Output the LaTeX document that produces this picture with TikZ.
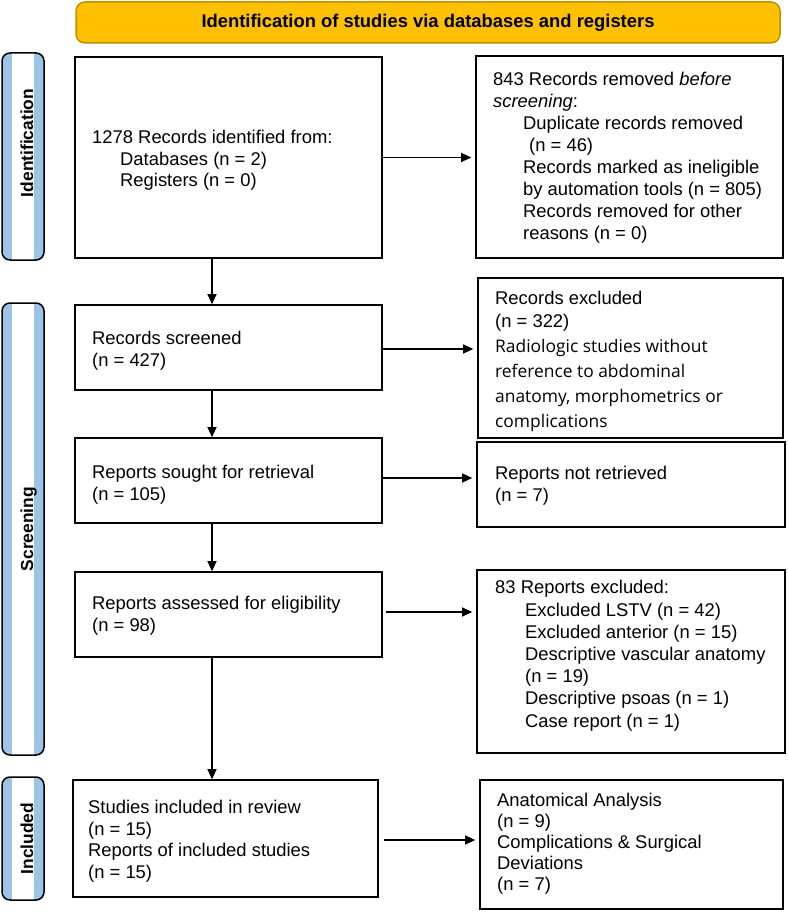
\documentclass[tikz,border=0pt]{standalone}
\usepackage{fontspec}
\setmainfont{Liberation Sans}
\newfontfamily\osans{Open Sans}
\usetikzlibrary{arrows.meta}
\definecolor{hdrfill}{HTML}{FFC000}
\definecolor{hdrline}{HTML}{BF9000}
\definecolor{barblue}{HTML}{9DC3E6}
\tikzset{
  box/.style={draw=black, line width=1.6pt, inner sep=0pt, rectangle},
  txt/.style={anchor=north west, inner sep=0pt, align=left, font=\fontsize{18.4}{21.4}\selectfont},
  arr/.style={-{Triangle[length=10pt,width=9pt]}, line width=1.1pt, shorten >=4pt},
  sidelbl/.style={rotate=90, anchor=base, inner sep=0pt, font=\fontsize{17.4}{20}\selectfont\bfseries},
}
\newcommand{\strt}{\rule{0pt}{14pt}}
\newcommand{\ind}{\hspace*{30pt}}
\begin{document}
\begin{tikzpicture}[x=1pt,y=-1pt]
\useasboundingbox (0,0) rectangle (787,912);
% header
\node[draw=hdrline, fill=hdrfill, line width=1.5pt, rounded corners=9pt, minimum width=704pt, minimum height=41pt, inner sep=0pt,
      font=\fontsize{18.4}{20}\selectfont\bfseries] (hdr) at (428,22.5) {Identification of studies via databases and registers};
% side bars
\foreach \nm/\ya/\yb in {ident/53/260, screen/303/755, incl/777/900}{
  \begin{scope}
    \clip[rounded corners=8pt] (2,\ya) rectangle (44,\yb);
    \fill[barblue] (2,\ya) rectangle (44,\yb);
    \fill[white] (12,\ya) rectangle (34,\yb);
  \end{scope}
  \draw[line width=1.5pt, rounded corners=8pt] (2,\ya) rectangle (44,\yb);
}
\node[sidelbl] (lident) at (33,143) {Identification};
\node[sidelbl] (lscreen) at (33,529) {Screening};
\node[sidelbl] (lincl) at (33,838.5) {Included};
% left boxes
\node[box, minimum width=307pt, minimum height=201pt] (b1) at (228.5,157.5) {};
\node[box, minimum width=307pt, minimum height=85pt] (b2) at (228.5,347.5) {};
\node[box, minimum width=307pt, minimum height=85pt] (b3) at (228.5,480.5) {};
\node[box, minimum width=307pt, minimum height=85pt] (b4) at (228.5,614.5) {};
\node[box, minimum width=305pt, minimum height=117pt] (b5) at (225.5,838.5) {};
% right boxes
\node[box, minimum width=307pt, minimum height=202pt] (r1) at (629.5,157) {};
\node[box, minimum width=305pt, minimum height=160pt] (r2) at (630.5,358) {};
\node[box, minimum width=308pt, minimum height=85pt] (r3) at (631,484.5) {};
\node[box, minimum width=308pt, minimum height=183pt] (r4) at (631,661.5) {};
\node[box, minimum width=303pt, minimum height=129pt] (r5) at (631.5,844.5) {};
% texts
\node[txt] (t1) at (92,129.6) {\strt 1278 Records identified from:\\ \hspace*{28pt}Databases (n = 2)\\ \hspace*{28pt}Registers (n = 0)};
\node[txt] (t2) at (92,330.6) {\strt Records screened\\(n = 427)};
\node[txt] (t3) at (92,464.6) {\strt Reports sought for retrieval\\(n = 105)};
\node[txt] (t4) at (92,595.6) {\strt Reports assessed for eligibility\\(n = 98)};
\node[txt] (t5) at (88,799.6) {\strt Studies included in review\\(n = 15)\\Reports of included studies\\(n = 15)};
\node[txt, font=\fontsize{18.4}{22}\selectfont] (tr1) at (493,71.6) {\strt 843 Records removed \textit{before}\\\textit{screening}:\\\ind Duplicate records removed\\\ind\hspace*{6pt}(n = 46)\\\ind Records marked as ineligible\\\ind by automation tools (n = 805)\\\ind Records removed for other\\\ind reasons (n = 0)};
\node[txt, font=\fontsize{18.4}{23}\selectfont] (tr2a) at (495,290.6) {\strt Records excluded\\(n = 322)};
\node[txt, font=\osans\fontsize{17.4}{25}\selectfont] (tr2b) at (495,338.1) {\strt Radiologic studies without\\reference to abdominal\\anatomy, morphometrics or\\complications};
\node[txt] (tr3) at (495,465.6) {\strt Reports not retrieved\\(n = 7)};
\node[txt, font=\fontsize{18.4}{22.2}\selectfont] (tr4) at (495,579.6) {\strt 83 Reports excluded:\\\ind Excluded LSTV (n = 42)\\\ind Excluded anterior (n = 15)\\\ind Descriptive vascular anatomy\\\ind (n = 19)\\\ind Descriptive psoas (n = 1)\\\ind Case report (n = 1)};
\node[txt, font=\fontsize{18.4}{20.8}\selectfont] (tr5) at (497,792.6) {\strt Anatomical Analysis\\(n = 9)\\Complications \& Surgical\\Deviations\\(n = 7)};
% vertical arrows
\draw[arr, shorten >=0pt] ([xshift=-16.5pt]b1.south) -- ([xshift=-16.5pt]b2.north);
\draw[arr, shorten >=0pt] ([xshift=-16.5pt]b2.south) -- ([xshift=-16.5pt]b3.north);
\draw[arr, shorten >=0pt] ([xshift=-16.5pt]b3.south) -- ([xshift=-16.5pt]b4.north);
\draw[arr, shorten >=0pt] ([xshift=-16.5pt]b4.south) -- ([xshift=-16.5pt]b4.south |- b5.north);
% horizontal arrows
\draw[arr] (b1.east) -- (b1.east -| r1.west);
\draw[arr] ([yshift=-1.5pt]b2.east) -- ([yshift=-1.5pt]b2.east -| r2.west);
\draw[arr] ([yshift=2.5pt]b3.east) -- ([yshift=2.5pt]b3.east -| r3.west);
\draw[arr, shorten <=3pt] ([yshift=2.5pt]b4.east) -- ([yshift=2.5pt]b4.east -| r4.west);
\draw[arr, shorten <=5pt] ([yshift=-1.5pt]b5.east) -- ([yshift=-1.5pt]b5.east -| r5.west);
\end{tikzpicture}
\end{document}
